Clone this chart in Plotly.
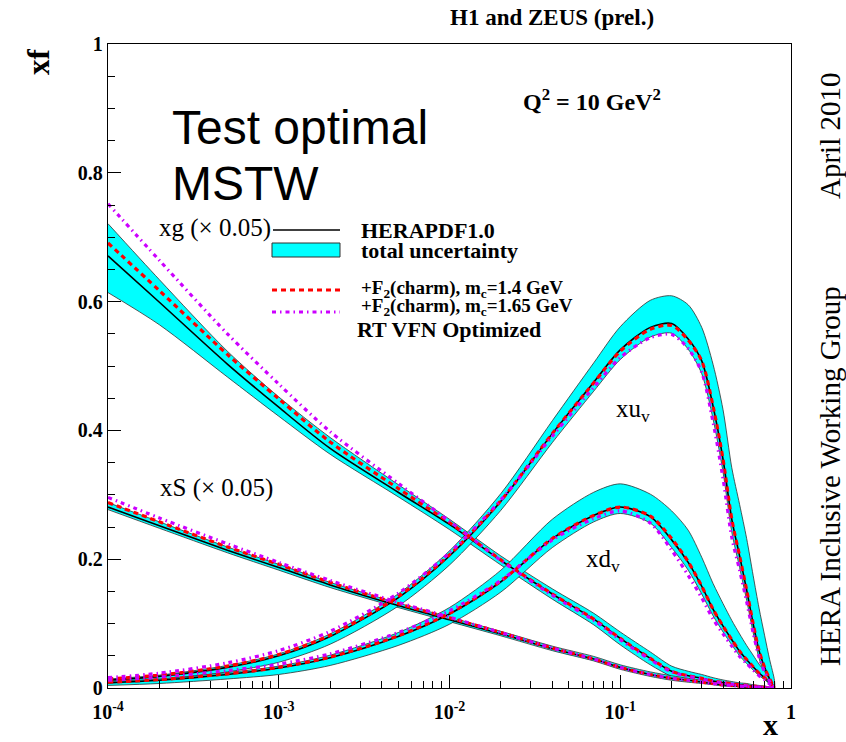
import plotly.graph_objects as go

# ---------------------------------------------------------------------------
# Parton distributions at Q^2 = 10 GeV^2 (HERAPDF1.0 and charm-fit variants)
# ---------------------------------------------------------------------------
x_grid = [1e-4, 2e-4, 5e-4, 1e-3, 2e-3, 5e-3, 0.01, 0.02, 0.04, 0.07, 0.1, 0.15,
          0.2, 0.25, 0.3, 0.35, 0.4, 0.45, 0.5, 0.55, 0.6, 0.65, 0.7, 0.75, 0.8]

# gluon, scaled by 0.05
xg_central = [0.671, 0.599, 0.503, 0.436, 0.372, 0.304, 0.254, 0.198, 0.146, 0.107, 0.077, 0.046,
              0.026, 0.019, 0.015, 0.011, 0.0085, 0.0065, 0.005, 0.004, 0.003, 0.002, 0.001, 0.0005, 0.0]
xg_hi = [0.721, 0.634, 0.523, 0.452, 0.389, 0.316, 0.262, 0.205, 0.154, 0.116, 0.087, 0.056,
         0.034, 0.026, 0.021, 0.016, 0.0125, 0.010, 0.008, 0.007, 0.005, 0.004, 0.003, 0.0015, 0.0]
xg_lo = [0.614, 0.564, 0.483, 0.422, 0.363, 0.297, 0.246, 0.191, 0.138, 0.098, 0.067, 0.036,
         0.018, 0.012, 0.009, 0.006, 0.0045, 0.003, 0.002, 0.001, 0.001, 0.0, 0.0, 0.0, 0.0]
xg_mc14 = [0.691, 0.617, 0.518, 0.449, 0.382, 0.310, 0.257, 0.199, 0.146, 0.107, 0.077, 0.046,
           0.026, 0.019, 0.015, 0.011, 0.0085, 0.0065, 0.005, 0.004, 0.003, 0.002, 0.001, 0.0005, 0.0]
xg_mc165 = [0.752, 0.664, 0.550, 0.472, 0.398, 0.318, 0.259, 0.198, 0.144, 0.105, 0.075, 0.044,
            0.025, 0.018, 0.014, 0.010, 0.008, 0.006, 0.0045, 0.0035, 0.0025, 0.0015, 0.001, 0.0005, 0.0]

# sea, scaled by 0.05
xs_central = [0.281, 0.252, 0.214, 0.187, 0.160, 0.128, 0.106, 0.084, 0.061, 0.045, 0.032, 0.021,
              0.015, 0.012, 0.009, 0.007, 0.005, 0.004, 0.003, 0.002, 0.0015, 0.001, 0.0005, 0.0002, 0.0]
xs_hi = [0.288, 0.258, 0.219, 0.192, 0.164, 0.132, 0.110, 0.088, 0.065, 0.049, 0.036, 0.025,
         0.019, 0.015, 0.012, 0.010, 0.008, 0.006, 0.005, 0.004, 0.003, 0.002, 0.0015, 0.0007, 0.0]
xs_lo = [0.277, 0.248, 0.210, 0.183, 0.156, 0.125, 0.103, 0.081, 0.058, 0.042, 0.029, 0.018,
         0.012, 0.009, 0.007, 0.005, 0.003, 0.002, 0.002, 0.001, 0.001, 0.0005, 0.0, 0.0, 0.0]
xs_mc14 = [0.288, 0.258, 0.219, 0.192, 0.164, 0.131, 0.109, 0.086, 0.062, 0.045, 0.032, 0.021,
           0.015, 0.012, 0.009, 0.007, 0.005, 0.004, 0.003, 0.002, 0.0015, 0.001, 0.0005, 0.0002, 0.0]
xs_mc165 = [0.296, 0.264, 0.224, 0.195, 0.167, 0.133, 0.110, 0.086, 0.062, 0.045, 0.032, 0.021,
            0.015, 0.012, 0.009, 0.007, 0.005, 0.004, 0.003, 0.002, 0.0015, 0.001, 0.0005, 0.0002, 0.0]

# u valence
xuv_central = [0.012, 0.018, 0.032, 0.050, 0.080, 0.140, 0.205, 0.290, 0.395, 0.475, 0.525, 0.560,
               0.566, 0.542, 0.508, 0.437, 0.355, 0.262, 0.205, 0.152, 0.100, 0.058, 0.032, 0.014, 0.0]
xuv_hi = [0.014, 0.020, 0.035, 0.053, 0.084, 0.146, 0.213, 0.302, 0.415, 0.505, 0.561, 0.602,
          0.609, 0.595, 0.560, 0.502, 0.432, 0.342, 0.285, 0.232, 0.175, 0.124, 0.082, 0.044, 0.012]
xuv_lo = [0.008, 0.013, 0.025, 0.040, 0.068, 0.127, 0.191, 0.276, 0.381, 0.461, 0.510, 0.545,
          0.551, 0.526, 0.488, 0.417, 0.335, 0.242, 0.187, 0.136, 0.086, 0.046, 0.022, 0.008, 0.0]
xuv_mc14 = [0.014, 0.020, 0.034, 0.052, 0.082, 0.142, 0.207, 0.291, 0.395, 0.474, 0.523, 0.557,
            0.563, 0.540, 0.508, 0.437, 0.355, 0.262, 0.205, 0.152, 0.100, 0.058, 0.032, 0.014, 0.0]
xuv_mc165 = [0.016, 0.023, 0.039, 0.058, 0.088, 0.147, 0.210, 0.292, 0.391, 0.467, 0.513, 0.544,
             0.549, 0.527, 0.490, 0.412, 0.325, 0.234, 0.183, 0.134, 0.086, 0.048, 0.025, 0.010, 0.0]

# d valence
xdv_central = [0.008, 0.012, 0.021, 0.031, 0.047, 0.080, 0.115, 0.165, 0.232, 0.268, 0.281, 0.266,
               0.230, 0.195, 0.158, 0.122, 0.096, 0.075, 0.057, 0.044, 0.033, 0.023, 0.016, 0.008, 0.0]
xdv_hi = [0.010, 0.014, 0.024, 0.034, 0.051, 0.086, 0.125, 0.183, 0.262, 0.304, 0.317, 0.301,
          0.275, 0.245, 0.203, 0.162, 0.131, 0.105, 0.084, 0.066, 0.051, 0.037, 0.026, 0.013, 0.0]
xdv_lo = [0.004, 0.007, 0.014, 0.021, 0.035, 0.066, 0.099, 0.149, 0.218, 0.258, 0.271, 0.256,
          0.218, 0.183, 0.146, 0.112, 0.087, 0.067, 0.050, 0.038, 0.028, 0.019, 0.013, 0.006, 0.0]
xdv_mc14 = [0.009, 0.013, 0.022, 0.032, 0.048, 0.081, 0.116, 0.166, 0.232, 0.268, 0.281, 0.267,
            0.232, 0.196, 0.158, 0.122, 0.096, 0.075, 0.057, 0.044, 0.033, 0.023, 0.016, 0.008, 0.0]
xdv_mc165 = [0.012, 0.017, 0.027, 0.037, 0.053, 0.086, 0.120, 0.167, 0.230, 0.263, 0.275, 0.256,
             0.214, 0.175, 0.140, 0.107, 0.084, 0.065, 0.049, 0.038, 0.028, 0.019, 0.013, 0.006, 0.0]

# axis ticks
x_major = [1e-4, 1e-3, 1e-2, 1e-1, 1]
x_major_text = ["10<sup>-4</sup>", "10<sup>-3</sup>", "10<sup>-2</sup>", "10<sup>-1</sup>", "1"]
x_minor = [m * d for d in (1e-4, 1e-3, 1e-2, 1e-1) for m in range(2, 10)]
y_major = [0, 0.2, 0.4, 0.6, 0.8, 1.0]
y_major_text = ["0", "0.2", "0.4", "0.6", "0.8", "1"]
y_minor = [0.05, 0.1, 0.15, 0.25, 0.3, 0.35, 0.45, 0.5, 0.55, 0.65, 0.7, 0.75, 0.85, 0.9, 0.95]

# ---------------------------------------------------------------------------
W, H = 846, 742
L, R, T, B = 108, 791, 44, 688          # frame edges in pixels
SERIF = "Liberation Serif"
SANS = "Liberation Sans"
CYAN = "#00FFFF"
RED = "#FF0000"
MAGENTA = "#CC00FF"
RED_DASH = "5px,4px"
MAG_DASH = "4px,4px,1.5px,4px"


def fx(p):
    return (p - L) / (R - L)


def fy(p):
    return (B - p) / (B - T)


pdfs = [
    (xg_central, xg_hi, xg_lo, xg_mc14, xg_mc165),
    (xs_central, xs_hi, xs_lo, xs_mc14, xs_mc165),
    (xuv_central, xuv_hi, xuv_lo, xuv_mc14, xuv_mc165),
    (xdv_central, xdv_hi, xdv_lo, xdv_mc14, xdv_mc165),
]

fig = go.Figure()

# uncertainty bands
for central, hi, lo, mc14, mc165 in pdfs:
    fig.add_trace(go.Scatter(
        x=x_grid + x_grid[::-1], y=hi + lo[::-1],
        mode="lines", fill="toself", fillcolor=CYAN,
        line=dict(color="#303030", width=0.8, shape="spline", smoothing=0.8),
        hoverinfo="skip", showlegend=False))

# central HERAPDF1.0 curves
for central, hi, lo, mc14, mc165 in pdfs:
    fig.add_trace(go.Scatter(
        x=x_grid, y=central, mode="lines",
        line=dict(color="black", width=1.6, shape="spline", smoothing=0.8),
        showlegend=False))

# charm-fit variants
for central, hi, lo, mc14, mc165 in pdfs:
    fig.add_trace(go.Scatter(
        x=x_grid, y=mc14, mode="lines",
        line=dict(color=RED, width=3.2, dash=RED_DASH, shape="spline", smoothing=0.8),
        showlegend=False))
for central, hi, lo, mc14, mc165 in pdfs:
    fig.add_trace(go.Scatter(
        x=x_grid, y=mc165, mode="lines",
        line=dict(color=MAGENTA, width=3.2, dash=MAG_DASH, shape="spline", smoothing=0.8),
        showlegend=False))

axis_font = dict(family=SERIF, size=20, color="black")

fig.update_xaxes(
    type="log", range=[-4, 0],
    showline=True, linecolor="black", linewidth=1.3, mirror=True,
    showgrid=False, zeroline=False,
    ticks="inside", ticklen=13, tickwidth=1.1, tickcolor="black",
    tickmode="array", tickvals=x_major,
    ticktext=["<b>" + t + "</b>" for t in x_major_text],
    tickfont=axis_font, ticklabelstandoff=6,
    minor=dict(ticks="inside", ticklen=7, tickwidth=1.1, tickcolor="black",
               tickmode="array", tickvals=x_minor, showgrid=False),
)
fig.update_yaxes(
    range=[0, 1],
    showline=True, linecolor="black", linewidth=1.3, mirror=True,
    showgrid=False, zeroline=False,
    ticks="inside", ticklen=13, tickwidth=1.1, tickcolor="black",
    tickmode="array", tickvals=y_major,
    ticktext=["<b>" + t + "</b>" for t in y_major_text],
    tickfont=axis_font,
    minor=dict(ticks="inside", ticklen=7, tickwidth=1.1, tickcolor="black",
               tickmode="array", tickvals=y_minor, showgrid=False),
)

annotations = []


def note(text, px, py, size, family=SERIF, xanchor="left", yanchor="middle", angle=0):
    annotations.append(dict(
        text=text, x=fx(px), y=fy(py), xref="paper", yref="paper",
        xanchor=xanchor, yanchor=yanchor, showarrow=False, textangle=angle,
        font=dict(family=family, size=size, color="black")))


note("<b>H1 and ZEUS (prel.)</b>", 552, 18, 23, xanchor="center")
note("<b>xf</b>", 38, 62, 31, xanchor="center", angle=-90)
note("<b>x</b>", 770, 724, 30, xanchor="center")
note("<b>Q<sup>2</sup> = 10 GeV<sup>2</sup></b>", 592, 100, 24, xanchor="center")
note("Test optimal", 170, 127, 48, family=SANS)
note("MSTW", 170, 183, 48, family=SANS)
note("xg (\u00d7 0.05)", 157, 228, 25)
note("xS (\u00d7 0.05)", 158, 488, 25)
note("xu<sub>v</sub>", 614, 410, 25)
note("xd<sub>v</sub>", 584, 560, 25)
note("April 2010", 830, 136, 29, xanchor="center", angle=-90)
note("HERA Inclusive Working Group", 830, 476, 29, xanchor="center", angle=-90)

# legend
note("<b>HERAPDF1.0</b>", 359, 230, 22)
note("<b>total uncertainty</b>", 359, 250, 22)
note("<b>+F<sub>2</sub>(charm), m<sub>c</sub>=1.4 GeV</b>", 359, 289, 19)
note("<b>+F<sub>2</sub>(charm), m<sub>c</sub>=1.65 GeV</b>", 359, 307, 19)
note("<b>RT VFN Optimized</b>", 355, 329, 22)

shapes = [
    dict(type="line", xref="paper", yref="paper", x0=fx(273), x1=fx(340), y0=fy(230), y1=fy(230),
         line=dict(color="black", width=1.6)),
    dict(type="rect", xref="paper", yref="paper", x0=fx(272), x1=fx(340), y0=fy(257), y1=fy(243),
         fillcolor=CYAN, line=dict(color="#303030", width=1)),
    dict(type="line", xref="paper", yref="paper", x0=fx(272), x1=fx(340), y0=fy(290), y1=fy(290),
         line=dict(color=RED, width=3.2, dash=RED_DASH)),
    dict(type="line", xref="paper", yref="paper", x0=fx(272), x1=fx(340), y0=fy(312), y1=fy(312),
         line=dict(color=MAGENTA, width=3.2, dash=MAG_DASH)),
]

fig.update_layout(
    width=W, height=H, autosize=False,
    margin=dict(l=L, r=W - R, t=T, b=H - B, pad=0),
    plot_bgcolor="white", paper_bgcolor="white",
    showlegend=False,
    annotations=annotations, shapes=shapes,
)

fig.write_html("out.html")
